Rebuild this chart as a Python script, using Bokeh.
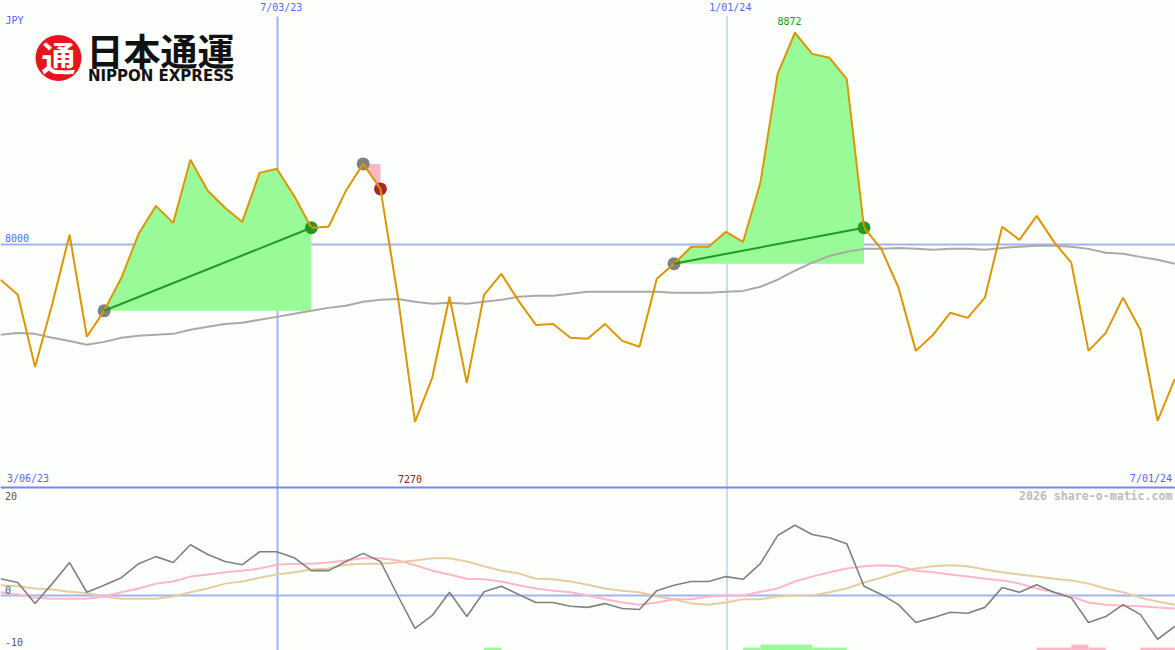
import math
from bokeh.plotting import figure
from bokeh.models import Range1d
from bokeh.core.properties import value
from bokeh.embed import file_html
from bokeh.resources import INLINE

W, H = 1175, 650

# ---- data ----
price = [7855, 7793, 7496, 7756, 8040, 7620, 7727, 7863, 8044, 8159, 8089, 8349, 8221, 8151, 8093, 8295, 8312, 8201,
         8069, 8073, 8221, 8332, 8229, 7789, 7270, 7451, 7785, 7430, 7793, 7879, 7768, 7669, 7673, 7616, 7612, 7673,
         7603, 7579, 7859, 7921, 7991, 7991, 8052, 8011, 8254, 8703, 8872, 8785, 8769, 8682, 8069, 7982, 7822, 7562,
         7628, 7719, 7698, 7781, 8073, 8019, 8118, 8011, 7925, 7562, 7636, 7781, 7649, 7274, 7447]
moving_avg = [7628, 7636, 7632, 7616, 7603, 7587, 7599, 7616, 7624, 7628, 7632, 7649, 7661, 7673, 7678, 7690, 7702, 7715,
              7727, 7739, 7748, 7764, 7772, 7776, 7764, 7756, 7760, 7756, 7764, 7772, 7785, 7789, 7789, 7797, 7805, 7805,
              7805, 7805, 7805, 7801, 7801, 7801, 7805, 7809, 7826, 7855, 7892, 7925, 7953, 7970, 7982, 7982, 7986, 7982,
              7978, 7982, 7982, 7978, 7986, 7991, 7995, 7995, 7991, 7982, 7966, 7962, 7949, 7937, 7921]
osc_main = [3.1, 2.4, -1.5, 2.2, 6.1, 0.6, 1.9, 3.3, 5.9, 7.2, 6.1, 9.4, 7.6, 6.3, 5.7, 8.1, 8.1, 7.0,
            4.6, 4.6, 6.3, 7.8, 6.3, 0.0, -6.1, -3.7, 0.6, -3.9, 0.7, 1.7, 0.2, -1.3, -1.3, -2.0, -2.2, -1.5,
            -2.4, -2.6, 0.9, 1.9, 2.6, 2.6, 3.5, 3.0, 5.9, 11.1, 13.0, 11.3, 10.7, 9.6, 1.7, 0.2, -1.7, -5.0,
            -4.1, -3.1, -3.3, -2.2, 1.5, 0.6, 2.0, 0.6, -0.4, -5.0, -3.9, -1.7, -3.5, -8.1, -5.7]
osc_pink = [0.6, 0.2, -0.4, -0.6, -0.6, -0.6, -0.2, 0.6, 1.3, 2.2, 2.6, 3.5, 3.9, 4.3, 4.6, 5.0, 5.7, 5.9,
            5.9, 6.1, 6.5, 6.9, 6.9, 6.5, 5.6, 4.6, 3.9, 3.1, 3.0, 2.6, 1.9, 1.3, 0.9, 0.6, 0.0, -0.7,
            -1.3, -1.7, -1.3, -0.7, -0.7, -0.2, 0.0, 0.0, 0.7, 1.3, 2.6, 3.5, 4.3, 5.0, 5.4, 5.6, 5.4, 4.6,
            4.3, 3.9, 3.5, 3.1, 2.8, 2.2, 1.3, 0.6, -0.2, -1.3, -1.7, -1.9, -2.0, -2.2, -2.4]
osc_tan = [1.9, 1.7, 1.3, 1.1, 0.7, 0.4, -0.2, -0.6, -0.6, -0.6, -0.2, 0.6, 1.3, 2.2, 2.6, 3.3, 3.9, 4.3,
           4.8, 5.0, 5.7, 5.9, 5.9, 6.1, 6.5, 6.9, 6.9, 6.3, 5.4, 4.6, 4.1, 3.1, 3.0, 2.6, 2.0, 1.3,
           0.9, 0.6, -0.2, -0.7, -1.5, -1.7, -1.3, -0.7, -0.7, -0.2, 0.0, 0.0, 0.6, 1.3, 2.4, 3.3, 4.3, 5.0,
           5.4, 5.6, 5.4, 4.8, 4.3, 3.9, 3.5, 3.1, 2.8, 2.2, 1.3, 0.6, -0.4, -1.1, -1.7]
# signal blocks along the bottom: (week index, height in oscillator units)
green_weeks = [28, 43, 44, 45, 46, 47, 48]
green_tops = [0.55, 0.55, 1.1, 1.1, 1.1, 0.55, 0.55]
pink_weeks = [60, 61, 62, 63, 66, 67]
pink_tops = [0.55, 0.55, 1.1, 0.55, 0.55, 0.55]
# trades: entry week, exit week
trade_entries = [6, 21, 39]
trade_exits = [18, 22, 50]
trade_colors = ["#98FB98", "#FFB6C8", "#98FB98"]
exit_colors = ["#229922", "#A52A2A", "#229922"]
line_colors = ["#229922", None, "#229922"]
date_labels = ["7/03/23", "1/01/24"]
date_weeks = [16, 42]
start_label, end_label = "3/06/23", "7/01/24"
price_tick = 8000
price_labels = ["8000"]
osc_ticks = [20, 0, -10]
high_label, low_label = "8872", "7270"
currency = "JPY"
credit = "2026 share-o-matic.com"
logo_mark, logo_name, logo_sub = "通", "日本通運", "NIPPON EXPRESS"

assert all(len(s) == 69 for s in (price, moving_avg, osc_main, osc_pink, osc_tan))
weeks = list(range(69))

# ---- scales: whole picture is one plot frame with two vertical scales ----
x0, dx = 0.0, 17.27
j_per_px = 4.118
def X(px): return (px - x0) / dx
def Y(py): return 8000 + (244 - py) * j_per_px
def O(py): return (595 - py) / 5.4

p = figure(width=W, height=H, output_backend="svg", toolbar_location=None,
           x_axis_type=None, y_axis_type=None, min_border=0,
           x_range=Range1d(X(0), X(W)), y_range=Range1d(Y(H), Y(0)))
p.extra_y_ranges["osc"] = Range1d(O(H), O(0))
p.outline_line_color = None
p.background_fill_color = "#FDFFFD"
p.border_fill_color = "#FDFFFD"
p.grid.visible = False
p.styles = {"position": "absolute", "left": "0px", "top": "0px"}

GRID, RULE, BLUE = "#A3B3F0", "#7787EA", "#5566EE"
MONO = value("DejaVu Sans Mono")

# grid lines, snapped to whole pixels so that they stay crisp
for wk, lw in zip(date_weeks, [2, 1]):
    snapped = X(math.ceil(wk * dx) + (0.5 if lw == 1 else 0))
    p.segment(x0=[snapped], x1=[snapped], y0=[Y(16)], y1=[Y(H)], line_color=GRID, line_width=lw)
p.segment(x0=[X(0)], x1=[X(W)], y0=[price_tick], y1=[price_tick], line_color=GRID, line_width=2)
p.segment(x0=[X(0)], x1=[X(W)], y0=[0], y1=[0], line_color=GRID, line_width=2, y_range_name="osc")

# blocks along the bottom
for wks, tops, col in ((green_weeks, green_tops, "#98FB98"), (pink_weeks, pink_tops, "#FFB6C8")):
    p.quad(left=wks, right=[w + 1 for w in wks], bottom=[-11] * len(wks),
           top=[O(H) + t for t in tops], fill_color=col, line_color=None, y_range_name="osc")

# trade fills
for a, b, col in zip(trade_entries, trade_exits, trade_colors):
    xs = weeks[a:b + 1]
    p.varea(x=xs, y1=[price[a]] * len(xs), y2=price[a:b + 1], fill_color=col)

# moving average and divider
p.line(weeks, moving_avg, line_color="#A9A9A9", line_width=2)
p.segment(x0=[X(0)], x1=[X(W)], y0=[Y(487)], y1=[Y(487)], line_color=RULE, line_width=2)

# oscillators
p.line(weeks, osc_tan, line_color="#E6CD9F", line_width=2, y_range_name="osc")
p.line(weeks, osc_pink, line_color="#FFB6C8", line_width=2, y_range_name="osc")
p.line(weeks, osc_main, line_color="#808080", line_width=1.6, y_range_name="osc")

# trade markers, price line, trade lines
p.scatter(trade_entries, [price[i] for i in trade_entries], size=13, fill_color="#808080", line_color=None)
p.scatter(trade_exits, [price[i] for i in trade_exits], size=13, fill_color=exit_colors, line_color=None)
p.line(weeks, price, line_color="#DC9600", line_width=2)
for a, b, col in zip(trade_entries, trade_exits, line_colors):
    if col:
        p.line([a, b], [price[a], price[b]], line_color=col, line_width=2)

def txt(px, py, s, color, align="left", size="10px", style="normal", font=MONO):
    p.text(x=[X(px)], y=[Y(py)], text=[s], text_color=color, text_font=font, text_font_size=size,
           text_font_style=style, text_align=align, text_baseline="middle")

for wk, s in zip(date_weeks, date_labels):
    txt(wk * dx + 4.5, 7, s, BLUE, "center")
txt(5, 20, currency, BLUE)
txt(4.5, 237, price_labels[0], BLUE)
txt(6.5, 478, start_label, BLUE)
txt(1171.5, 478, end_label, BLUE, "right")
txt(409.5, 478, low_label, "#8B1A1A", "center")
txt(789, 20, high_label, "#119911", "center")
for t, py in zip(osc_ticks, [495, 589, 641]):
    txt(4.5, py, str(t), "#555555")
txt(1172, 495, credit, "#BBBBBB", "right", "11.6px", "bold")

# logo as real text
p.scatter([X(58)], [Y(57.5)], size=46, fill_color="#E8141C", line_color=None)
CJK = value("Noto Sans CJK JP")
txt(58, 56, logo_mark, "#FFFFFF", "center", "34px", "bold", CJK)
txt(160, 49.5, logo_name, "#111111", "center", "37px", "bold", CJK)
txt(160.5, 75, logo_sub, "#111111", "center", "15px", "bold", value("DejaVu Sans"))

open("out.html", "w").write(file_html(p, INLINE))
